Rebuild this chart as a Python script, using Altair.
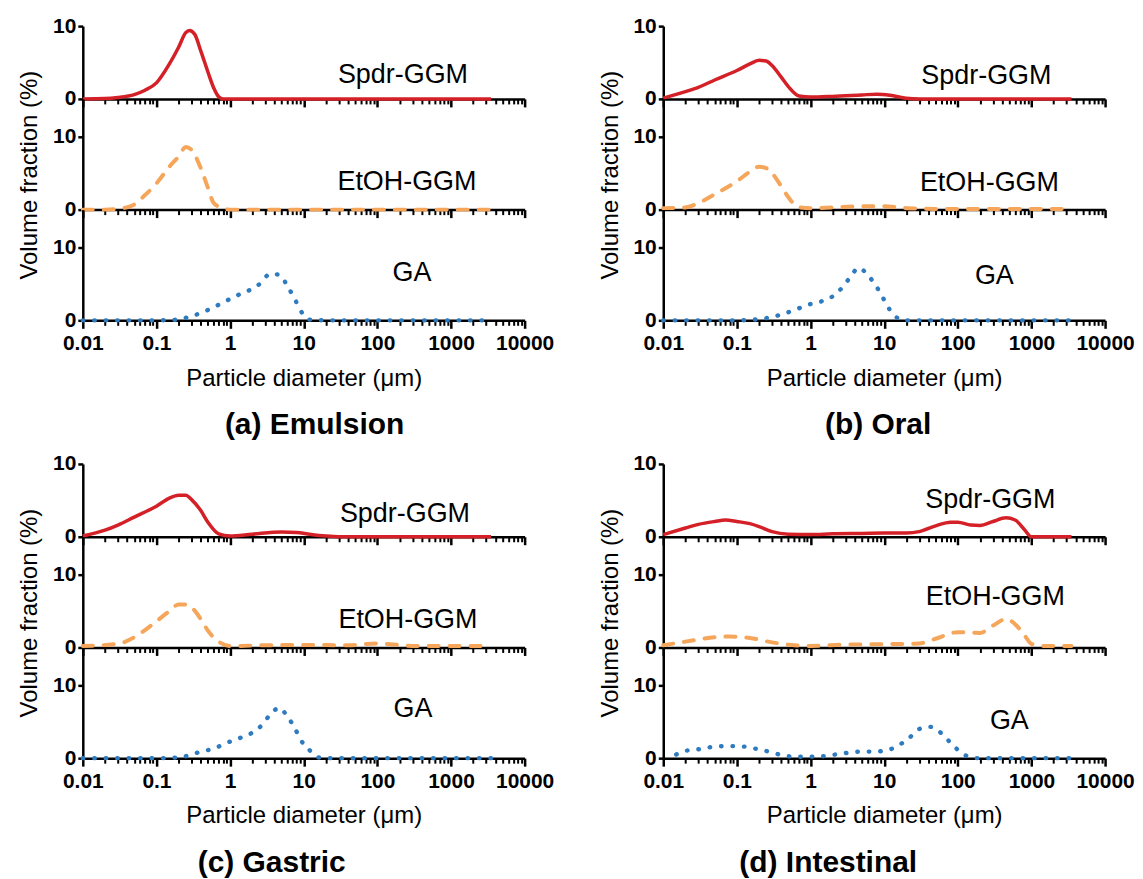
import altair as alt
import pandas as pd

FONT = "Liberation Sans"
COLORS = ["#d42027", "#f5a65b", "#2e7bbf"]
SERIES = ["Spdr-GGM", "EtOH-GGM", "GA"]
PANEL_TITLES = ["(a) Emulsion", "(b) Oral", "(c) Gastric", "(d) Intestinal"]
X_MAJOR = [0.01, 0.1, 1, 10, 100, 1000, 10000]
X_MINOR = [m * 10.0 ** e for e in range(-2, 4) for m in range(2, 10)]
Y_TICKS = [0, 10]

# ---- (a) Emulsion ----
a_spdr_d = [0.01, 0.02, 0.03, 0.05, 0.07, 0.1, 0.15, 0.2, 0.25, 0.28, 0.33, 0.4, 0.5, 0.6, 0.7, 0.8, 1, 10, 100, 1000, 3500]
a_spdr_v = [0, 0.05, 0.2, 0.6, 1.2, 2.2, 4.8, 7.1, 9.1, 9.4, 8.9, 6.6, 3.7, 1.5, 0.3, 0, 0, 0, 0, 0, 0]
a_etoh_d = [0.01, 0.02, 0.03, 0.05, 0.07, 0.1, 0.15, 0.2, 0.25, 0.3, 0.4, 0.5, 0.6, 0.8, 1, 10, 100, 1000, 3500]
a_etoh_v = [0, 0, 0.1, 0.7, 2.0, 3.6, 5.9, 7.3, 8.6, 8.2, 5.7, 3.0, 0.9, 0.2, 0, 0, 0, 0, 0]
a_ga_d = [0.01, 0.1, 0.2, 0.28, 0.4, 0.6, 0.9, 1.3, 1.8, 2.6, 3.5, 4.8, 6, 7.5, 9, 12, 20, 100, 1000, 3500]
a_ga_v = [0, 0, 0.1, 0.5, 1.0, 1.8, 2.7, 3.5, 4.1, 5.1, 6.4, 6.2, 4.7, 3.0, 1.4, 0.1, 0, 0, 0, 0]

# ---- (b) Oral ----
b_spdr_d = [0.01, 0.02, 0.03, 0.05, 0.1, 0.15, 0.2, 0.25, 0.3, 0.4, 0.5, 0.7, 1, 2, 5, 8, 12, 20, 30, 100, 1000, 3500]
b_spdr_v = [0.1, 1.0, 1.6, 2.6, 3.9, 4.8, 5.3, 5.2, 4.6, 3.0, 1.7, 0.4, 0.25, 0.35, 0.55, 0.65, 0.5, 0.1, 0, 0, 0, 0]
b_etoh_d = [0.01, 0.02, 0.03, 0.05, 0.1, 0.15, 0.2, 0.25, 0.3, 0.4, 0.5, 0.7, 1, 2, 5, 10, 20, 50, 100, 1000, 3000]
b_etoh_v = [0.2, 0.3, 0.9, 2.1, 3.9, 5.2, 5.9, 5.7, 5.0, 3.2, 1.7, 0.3, 0.2, 0.3, 0.45, 0.45, 0.2, 0.1, 0.1, 0.1, 0.1]
b_ga_d = [0.01, 0.1, 0.25, 0.4, 0.6, 0.9, 1.4, 2, 2.8, 3.5, 4.5, 6, 8, 10, 12, 16, 20, 100, 1000, 3500]
b_ga_v = [0, 0, 0.3, 0.8, 1.4, 2.1, 2.6, 3.3, 4.7, 6.0, 7.2, 6.2, 4.5, 2.8, 1.4, 0.2, 0, 0, 0, 0]

# ---- (c) Gastric ----
c_spdr_d = [0.01, 0.02, 0.03, 0.05, 0.1, 0.15, 0.2, 0.25, 0.3, 0.4, 0.5, 0.7, 1, 2, 5, 8, 12, 20, 30, 100, 1000, 3500]
c_spdr_v = [0.1, 0.9, 1.6, 2.7, 4.2, 5.3, 5.7, 5.7, 5.1, 3.6, 2.0, 0.4, 0.1, 0.35, 0.65, 0.6, 0.35, 0.1, 0, 0, 0, 0]
c_etoh_d = [0.01, 0.03, 0.05, 0.1, 0.15, 0.2, 0.25, 0.3, 0.4, 0.5, 0.7, 1, 3, 10, 40, 100, 150, 300, 1000, 3000]
c_etoh_v = [0.2, 0.5, 1.4, 3.6, 5.0, 5.9, 5.9, 5.5, 3.9, 2.3, 0.8, 0.2, 0.3, 0.35, 0.3, 0.55, 0.45, 0.2, 0.2, 0.2]
c_ga_d = [0.01, 0.1, 0.2, 0.28, 0.4, 0.6, 0.9, 1.3, 2, 2.8, 3.5, 4.7, 6, 7.5, 9, 12, 16, 20, 100, 1000, 3500]
c_ga_v = [0, 0, 0.1, 0.4, 0.9, 1.3, 2.1, 2.7, 3.5, 4.7, 6.0, 6.9, 5.7, 4.2, 2.6, 1.1, 0.1, 0, 0, 0, 0]

# ---- (d) Intestinal ----
d_spdr_d = [0.01, 0.02, 0.03, 0.05, 0.07, 0.1, 0.15, 0.2, 0.3, 0.5, 1, 2, 5, 10, 20, 30, 50, 80, 100, 150, 200, 300, 450, 600, 800, 1000, 3500]
d_spdr_v = [0.3, 1.2, 1.7, 2.1, 2.3, 2.1, 1.8, 1.4, 0.7, 0.35, 0.3, 0.4, 0.45, 0.5, 0.5, 0.7, 1.5, 2.0, 2.0, 1.6, 1.55, 2.1, 2.6, 2.3, 1.0, 0, 0]
d_etoh_d = [0.01, 0.02, 0.05, 0.08, 0.15, 0.3, 0.6, 1, 3, 10, 30, 50, 100, 200, 300, 450, 600, 800, 1000, 1500, 3500]
d_etoh_v = [0.3, 0.8, 1.4, 1.5, 1.3, 0.7, 0.3, 0.2, 0.4, 0.45, 0.55, 1.2, 2.1, 2.0, 3.0, 3.9, 3.2, 1.7, 0.5, 0.2, 0.2]
d_ga_d = [0.015, 0.02, 0.035, 0.05, 0.08, 0.12, 0.18, 0.27, 0.4, 0.6, 0.9, 1.4, 2, 3, 5, 7, 10, 15, 22, 30, 42, 60, 80, 110, 150, 200, 1000, 3500]
d_ga_v = [0.5, 1.0, 1.3, 1.6, 1.65, 1.6, 1.3, 0.9, 0.45, 0.2, 0.2, 0.25, 0.45, 0.7, 0.9, 0.9, 1.0, 1.65, 2.8, 4.0, 4.3, 3.4, 2.1, 0.8, 0.1, 0, 0, 0]

PANELS = [
    [(a_spdr_d, a_spdr_v), (a_etoh_d, a_etoh_v), (a_ga_d, a_ga_v)],
    [(b_spdr_d, b_spdr_v), (b_etoh_d, b_etoh_v), (b_ga_d, b_ga_v)],
    [(c_spdr_d, c_spdr_v), (c_etoh_d, c_etoh_v), (c_ga_d, c_ga_v)],
    [(d_spdr_d, d_spdr_v), (d_etoh_d, d_etoh_v), (d_ga_d, d_ga_v)],
]

# label positions in pixels inside each sub-plot (x, y)
LABEL_POS = [
    [(321, 49), (325, 83), (330, 64)],
    [(324, 50), (327, 84), (332, 67)],
    [(323, 50), (326, 83), (331, 62)],
    [(328, 36), (333, 60), (347, 74)],
]
TITLE_DX = [29, 12, -14, -38]

W = 443
H_TOP = 73
H_SUB = 111
DASHES = [None, [10, 11], [0.5, 11]]
WIDTHS = [3.5, 4, 4.4]


def subplot(p, s):
    d, v = PANELS[p][s]
    df = pd.DataFrame({"d": d, "v": v})
    top, bottom, mid = s == 0, s == 2, s == 1
    ymax = 10 if top else 15.2
    xscale = alt.Scale(type="log", domain=[0.01, 10000], nice=False)
    yscale = alt.Scale(domain=[0, ymax], nice=False, zero=True)

    major_kw = dict(orient="bottom", values=X_MAJOR, tickSize=8, labels=bottom,
                    format="~g", labelPadding=4, labelFlush=False, labelOverlap=False)
    if bottom:
        x_major = alt.X("d:Q", scale=xscale, title="Particle diameter (μm)",
                        axis=alt.Axis(titlePadding=13, **major_kw))
    else:
        x_major = alt.X("d:Q", scale=xscale, title=None, axis=alt.Axis(**major_kw))

    y_kw = dict(values=Y_TICKS, tickSize=5, labelPadding=2)
    if mid:
        y_enc = alt.Y("v:Q", scale=yscale, title="Volume fraction (%)",
                      axis=alt.Axis(titleY=76, titlePadding=11, **y_kw))
    else:
        y_enc = alt.Y("v:Q", scale=yscale, title=None, axis=alt.Axis(**y_kw))

    mk = dict(color=COLORS[s], strokeWidth=WIDTHS[s], interpolate="monotone",
              strokeCap="round" if s > 0 else "butt")
    if DASHES[s] is not None:
        mk["strokeDash"] = DASHES[s]
    line = alt.Chart(df).mark_line(**mk).encode(x=x_major, y=y_enc)

    minor = alt.Chart(df).mark_point(opacity=0).encode(
        x=alt.X("d:Q", scale=xscale, title=None,
                axis=alt.Axis(orient="bottom", values=X_MINOR, tickSize=5, labels=False,
                              domain=False, tickWidth=2)),
    )

    lx, ly = LABEL_POS[p][s]
    label = alt.Chart(pd.DataFrame({"t": [SERIES[s]]})).mark_text(
        font=FONT, fontSize=27, align="center", baseline="middle", color="black"
    ).encode(x=alt.value(lx), y=alt.value(ly), text="t:N")

    return alt.layer(line, minor, label).resolve_axis(x="independent").properties(
        width=W, height=H_TOP if top else H_SUB)


def panel(p):
    return alt.vconcat(
        subplot(p, 0), subplot(p, 1), subplot(p, 2),
        spacing=0, bounds="flush",
        title=alt.TitleParams(PANEL_TITLES[p], orient="bottom", anchor="middle",
                              font=FONT, fontSize=30, fontWeight="bold",
                              color="black", offset=20, dx=TITLE_DX[p]),
    )


chart = alt.vconcat(
    alt.hconcat(panel(0), panel(1), spacing=43),
    alt.hconcat(panel(2), panel(3), spacing=43),
    spacing=13,
).properties(
    padding={"left": 9, "top": 6, "right": 0, "bottom": 0}
).configure_view(stroke=None).configure_axis(
    domainColor="black", domainWidth=2.5, tickColor="black", tickWidth=2.5,
    labelFont=FONT, labelFontSize=21, labelFontWeight="bold", labelColor="black",
    titleFont=FONT, titleFontSize=24, titleFontWeight="normal", titleColor="black",
    grid=False,
)

chart.save("out.html", embed_options={"renderer": "svg", "actions": False})
